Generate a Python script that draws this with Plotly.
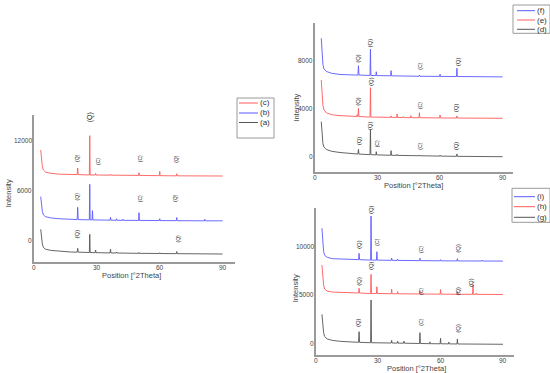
import plotly.graph_objects as go

W, H = 550, 373
FONT = "Liberation Sans"

# ---------------- data (2Theta, intensity) ----------------
# Panel 1
a_x = [3.2, 3.6, 4.0, 4.5, 5.5, 8, 12, 18, 20.6, 20.85, 21.1, 25, 26.4, 26.6, 26.8, 29.2, 29.4, 29.6, 36.3, 36.5, 36.7, 39.2, 39.4, 39.6, 50, 50.1, 50.3, 59.8, 60, 60.2, 67.9, 68.1, 68.3, 90]
a_y = [1280, 200, -500, -900, -1100, -1250, -1350, -1450, -1460, -1000, -1460, -1500, -1500, 680, -1500, -1520, -1200, -1520, -1550, -1080, -1550, -1560, -1450, -1560, -1600, -1500, -1600, -1620, -1520, -1620, -1640, -1380, -1640, -1680]
b_x = [3.2, 3.6, 4.0, 4.5, 5.5, 8, 12, 20.6, 20.85, 21.1, 26.4, 26.6, 26.8, 27.7, 27.9, 28.1, 36.3, 36.5, 36.7, 39.2, 39.4, 39.6, 42.2, 42.4, 42.6, 49.9, 50.1, 50.3, 59.8, 60, 60.2, 67.9, 68.1, 68.3, 81.3, 81.5, 81.7, 90]
b_y = [5200, 4200, 3400, 3000, 2800, 2650, 2550, 2450, 3920, 2450, 2420, 6680, 2420, 2410, 3520, 2410, 2380, 2720, 2380, 2370, 2550, 2370, 2360, 2500, 2360, 2350, 3280, 2350, 2330, 2560, 2330, 2320, 2700, 2320, 2300, 2500, 2300, 2300]
c_x = [3.2, 3.6, 4.0, 4.5, 5.5, 8, 12, 20.6, 20.85, 21.1, 26.4, 26.6, 26.8, 29.2, 29.4, 29.6, 36.3, 36.5, 36.7, 49.9, 50.1, 50.3, 59.8, 60, 60.2, 67.9, 68.1, 68.3, 90]
c_y = [10800, 9500, 8800, 8400, 8150, 8000, 7900, 7850, 8640, 7850, 7800, 12520, 7800, 7800, 8000, 7800, 7780, 7900, 7780, 7750, 8080, 7750, 7720, 8240, 7720, 7700, 7950, 7700, 7680]
# Panel 2
d_x = [3.0, 3.4, 3.8, 4.3, 5.5, 8, 12, 20.6, 20.85, 21.1, 26.4, 26.6, 26.8, 29.2, 29.4, 29.6, 36.3, 36.5, 36.7, 39.2, 39.4, 39.6, 49.9, 50.1, 50.3, 59.8, 60, 60.2, 67.9, 68.1, 68.3, 90]
d_y = [2920, 1800, 1100, 800, 600, 450, 350, 220, 610, 220, 170, 2220, 170, 150, 420, 150, 120, 500, 120, 110, 200, 110, 80, 150, 80, 50, 130, 50, 30, 230, 30, 0]
e_x = [3.0, 3.4, 3.8, 4.3, 5.5, 8, 12, 20.0, 20.2, 20.4, 20.6, 20.85, 21.1, 26.4, 26.6, 26.8, 36.3, 36.5, 36.7, 39.2, 39.4, 39.6, 42.2, 42.4, 42.6, 45.8, 46.0, 46.2, 49.9, 50.1, 50.3, 59.8, 60, 60.2, 67.9, 68.1, 68.3, 90]
e_y = [6390, 5200, 4300, 3900, 3650, 3500, 3420, 3350, 3500, 3350, 3350, 4030, 3350, 3300, 5750, 3300, 3280, 3400, 3280, 3270, 3560, 3270, 3260, 3350, 3260, 3250, 3420, 3250, 3250, 3670, 3250, 3230, 3470, 3230, 3220, 3400, 3220, 3200]
f_x = [3.0, 3.4, 3.8, 4.3, 5.5, 8, 12, 20.6, 20.85, 21.1, 26.4, 26.6, 26.8, 29.2, 29.4, 29.6, 36.3, 36.5, 36.7, 49.9, 50.1, 50.3, 59.8, 60, 60.2, 67.9, 68.1, 68.3, 90]
f_y = [9870, 8600, 7700, 7300, 7100, 6950, 6850, 6800, 7580, 6800, 6770, 8950, 6770, 6760, 7080, 6760, 6740, 7170, 6740, 6700, 6800, 6700, 6690, 6880, 6690, 6680, 7370, 6680, 6650]
# Panel 3
g_x = [3.0, 3.4, 3.8, 4.3, 5.5, 8, 12, 20.6, 20.85, 21.1, 26.4, 26.6, 26.8, 36.3, 36.5, 36.7, 39.2, 39.4, 39.6, 42.2, 42.4, 42.6, 49.9, 50.1, 50.3, 54.7, 54.9, 55.1, 59.8, 60, 60.2, 63.8, 64, 64.2, 67.9, 68.1, 68.3, 90]
g_y = [3000, 1900, 1100, 700, 450, 300, 200, 100, 1200, 100, 60, 4480, 60, 30, 310, 30, 20, 220, 20, 10, 230, 10, -20, 1100, -20, -40, 150, -40, -50, 520, -50, -60, 130, -60, -70, 450, -70, -100]
h_x = [3.0, 3.4, 3.8, 4.3, 5.5, 8, 12, 20.6, 20.85, 21.1, 26.4, 26.6, 26.8, 29.2, 29.4, 29.6, 36.3, 36.5, 36.7, 39.2, 39.4, 39.6, 49.9, 50.1, 50.3, 59.8, 60, 60.2, 67.9, 68.1, 68.3, 75.4, 75.6, 75.8, 77.0, 77.2, 77.4, 90]
h_y = [8100, 6900, 6000, 5600, 5400, 5300, 5250, 5200, 5690, 5200, 5150, 7130, 5150, 5150, 5850, 5150, 5130, 5600, 5130, 5120, 5350, 5120, 5100, 5420, 5100, 5080, 5560, 5080, 5070, 5350, 5070, 5060, 6100, 5060, 5060, 5200, 5060, 5050]
i_x = [3.0, 3.4, 3.8, 4.3, 5.5, 8, 12, 20.6, 20.85, 21.1, 26.4, 26.6, 26.8, 29.2, 29.4, 29.6, 36.3, 36.5, 36.7, 39.2, 39.4, 39.6, 49.9, 50.1, 50.3, 59.8, 60, 60.2, 67.9, 68.1, 68.3, 79.8, 80, 80.2, 90]
i_y = [11890, 10500, 9500, 9100, 8900, 8750, 8700, 8650, 9300, 8650, 8600, 13160, 8600, 8600, 9470, 8600, 8580, 8800, 8580, 8570, 8700, 8570, 8550, 8800, 8550, 8530, 8650, 8530, 8520, 8750, 8520, 8510, 8600, 8510, 8500]

# peak labels: (2Theta, intensity, text, font size)
lab1 = [(20.8, 9800, "(Q)", 5), (26.7, 14720, "(Q)", 7), (30.2, 9400, "(C)", 5), (50.5, 9800, "(C)", 5), (67.6, 9700, "(Q)", 5),
        (20.7, 5280, "(Q)", 5), (50.5, 5000, "(C)", 5), (67.6, 5000, "(Q)", 5),
        (20.7, 720, "(Q)", 6), (68.8, 200, "(Q)", 5)]
lab2 = [(20.9, 8200, "(Q)", 6), (26.5, 9450, "(Q)", 6), (50.4, 7500, "(C)", 5), (68.4, 7920, "(Q)", 6),
        (20.7, 4580, "(Q)", 6), (26.5, 6250, "(Q)", 6), (50.4, 4220, "(C)", 5), (67.6, 4120, "(Q)", 6),
        (20.9, 1330, "(Q)", 6), (26.5, 2560, "(Q)", 6), (29.9, 1060, "(C)", 5), (50.4, 830, "(C)", 5), (67.8, 890, "(Q)", 6)]
lab3 = [(20.7, 10240, "(Q)", 6), (26.6, 13780, "(Q)", 6), (29.6, 10440, "(C)", 5), (50.6, 9750, "(C)", 5), (68.6, 9820, "(Q)", 6),
        (20.7, 6440, "(Q)", 6), (26.6, 7990, "(Q)", 6), (50.6, 5410, "(C)", 5), (68.2, 5410, "(Q)", 6), (75.0, 6310, "(Q)", 6),
        (20.7, 2170, "(Q)", 6), (50.6, 2230, "(C)", 5), (68.6, 1550, "(Q)", 6)]

xticks = [0, 30, 60, 90]
yticks1 = [0, 6000, 12000]
yticks2 = [0, 4000, 8000]
yticks3 = [0, 5000, 10000]

RED, BLUE, BLACK = "#ff5a5a", "#5a5aff", "#555555"

# ---------------- layout geometry (pixels) ----------------
def px(x):
    return x / W
def py(y):
    return 1 - y / H

panels = [
    dict(x0=34, x1=235, yt=115, yb=262, xr=[0, 95.9], yr=[-2640, 15000], yt_vals=yticks1),
    dict(x0=315, x1=513, yt=23, yb=171.7, xr=[0, 95.0], yr=[-1250, 11140], yt_vals=yticks2),
    dict(x0=315.7, x1=514, yt=208.3, yb=355, xr=[0, 95.3], yr=[-1210, 13960], yt_vals=yticks3),
]

fig = go.Figure()
series = [
    (1, [(a_x, a_y, BLACK), (b_x, b_y, BLUE), (c_x, c_y, RED)]),
    (2, [(d_x, d_y, BLACK), (e_x, e_y, RED), (f_x, f_y, BLUE)]),
    (3, [(g_x, g_y, BLACK), (h_x, h_y, RED), (i_x, i_y, BLUE)]),
]
for k, lst in series:
    for xs, ys, col in lst:
        fig.add_trace(go.Scatter(x=xs, y=ys, mode="lines", line=dict(color=col, width=0.9),
                                 xaxis="x" if k == 1 else f"x{k}", yaxis="y" if k == 1 else f"y{k}",
                                 showlegend=False, hoverinfo="skip"))

axcol = "#9a9a9a"
layout = dict(width=W, height=H, margin=dict(l=0, r=0, t=0, b=0, autoexpand=False),
              paper_bgcolor="white", plot_bgcolor="white", showlegend=False)
for k, p in enumerate(panels, start=1):
    sx = "" if k == 1 else str(k)
    layout[f"xaxis{sx}"] = dict(domain=[px(p["x0"]), px(p["x1"])], range=p["xr"], anchor=f"y{sx}",
                                showgrid=False, zeroline=False, showline=True, linecolor=axcol, linewidth=1.5,
                                tickvals=xticks, ticks="", showticklabels=False, automargin=False)
    layout[f"yaxis{sx}"] = dict(domain=[py(p["yb"]), py(p["yt"])], range=p["yr"], anchor=f"x{sx}",
                                showgrid=False, zeroline=False, showline=True, linecolor=axcol, linewidth=1.5,
                                tickvals=p["yt_vals"], ticks="", showticklabels=False, automargin=False)
fig.update_layout(**layout)

ann = []
tickfont = dict(family=FONT, size=6.5, color="#444444")
# tick labels placed on the axes' own scales
for k, p in enumerate(panels, start=1):
    sx = "" if k == 1 else str(k)
    for v in xticks:
        ann.append(dict(x=v, y=py(p["yb"] + 1), xref=f"x{sx}", yref="paper", text=str(v), showarrow=False,
                        xanchor="center", yanchor="top", font=tickfont, borderpad=0))
    for v in p["yt_vals"]:
        ann.append(dict(x=px(p["x0"] - 1), y=v, xref="paper", yref=f"y{sx}", text=str(v), showarrow=False,
                        xanchor="right", yanchor="middle", font=tickfont, borderpad=0))

for k, labs in [(1, lab1), (2, lab2), (3, lab3)]:
    sx = "" if k == 1 else str(k)
    for x, y, t, s in labs:
        ann.append(dict(x=x, y=y, xref=f"x{sx}", yref=f"y{sx}", text=t, showarrow=False, textangle=-90,
                        font=dict(family=FONT, size=s, color="#222222"), borderpad=0))

labfont = dict(family=FONT, size=7.5, color="#444444")
for cx, cy in [(131, 275.5), (413, 185.3), (416, 368.5)]:
    ann.append(dict(x=px(cx), y=py(cy), xref="paper", yref="paper", text="Position [°2Theta]",
                    showarrow=False, font=labfont, xanchor="center", yanchor="middle", borderpad=0))
for cx, cy in [(8.3, 193), (296.7, 108), (295, 288.3)]:
    ann.append(dict(x=px(cx), y=py(cy), xref="paper", yref="paper", text="Intensity", textangle=-90,
                    showarrow=False, font=labfont, xanchor="center", yanchor="middle", borderpad=0))

# legends (boxes drawn as shapes)
legends = [
    dict(box=(237, 98, 274, 138), line=(239, 258), tx=259, rows=[(103, RED, "(c)"), (113, BLUE, "(b)"), (122.5, BLACK, "(a)")]),
    dict(box=(513, 5, 550, 33.3), line=(517, 535), tx=536, rows=[(10.7, BLUE, "(f)"), (20, RED, "(e)"), (29.3, BLACK, "(d)")]),
    dict(box=(512, 188.3, 550, 222.3), line=(514, 535), tx=536, rows=[(196.7, BLUE, "(i)"), (206.7, RED, "(h)"), (217.3, BLACK, "(g)")]),
]
shapes = []
for L in legends:
    x0, y0, x1, y1 = L["box"]
    shapes.append(dict(type="rect", xref="paper", yref="paper", x0=px(x0), x1=px(x1), y0=py(y1), y1=py(y0),
                       line=dict(color="#9a9a9a", width=1), fillcolor="white", layer="above"))
    for yy, col, t in L["rows"]:
        shapes.append(dict(type="line", xref="paper", yref="paper", x0=px(L["line"][0]), x1=px(L["line"][1]),
                           y0=py(yy), y1=py(yy), line=dict(color=col, width=1)))
        ann.append(dict(x=px(L["tx"]), y=py(yy), xref="paper", yref="paper", text=t, showarrow=False,
                        xanchor="left", yanchor="middle", font=dict(family=FONT, size=8, color="#333333"), borderpad=0))

fig.update_layout(annotations=ann, shapes=shapes)
fig.write_html("out.html", config={"displayModeBar": False},
               post_script="document.body.style.margin='0';document.body.style.overflow='hidden';")
